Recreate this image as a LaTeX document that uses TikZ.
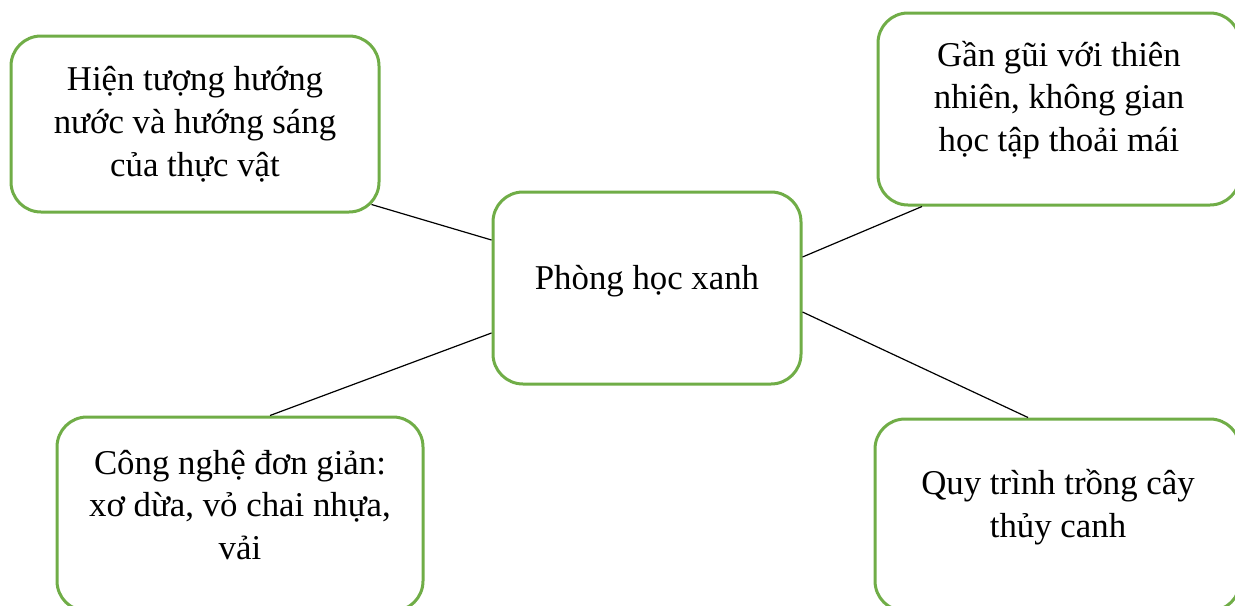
\documentclass[tikz,border=0pt]{standalone}
\usepackage{fontspec}
\setmainfont{Liberation Serif}
\usetikzlibrary{calc}
\definecolor{leafgreen}{RGB}{112,173,71}

\begin{document}
\begin{tikzpicture}[x=0.5pt,y=-0.5pt,
	topic/.style={draw=leafgreen, line width=1.5pt, rounded corners=15pt, fill=white, inner sep=0pt},
	topictext/.style={align=center, inner sep=0pt, font=\fontsize{17.4}{21.4}\selectfont},
	link/.style={draw=black, line width=0.6pt}]
		\useasboundingbox (0,0) rectangle (1235,605);
		\clip (0,0) rectangle (1235,605);

		% boxes
		\node[topic, minimum width=184pt, minimum height=88pt] (plants) at (195,124) {};
		\node[topic, minimum width=154pt, minimum height=96pt] (room) at (647,288) {};
		\node[topic, minimum width=181pt, minimum height=96pt] (nature) at (1059,109) {};
		\node[topic, minimum width=183pt, minimum height=97pt] (tech) at (240,514) {};
		\node[topic, minimum width=182.5pt, minimum height=96pt] (hydro) at (1057.5,515) {};

		% texts
		\node[topictext] (plants-txt) at (195,124) {Hiện tượng hướng\\nước và hướng sáng\\của thực vật};
		\node[topictext] (room-txt) at (647,281) {Phòng học xanh};
		\node[topictext] (nature-txt) at (1059,100) {Gần gũi với thiên\\nhiên, không gian\\học tập thoải mái};
		\node[topictext] (tech-txt) at (240,505) {Công nghệ đơn giản:\\xơ dừa, vỏ chai nhựa,\\vải};
		\node[topictext] (hydro-txt) at (1058,507) {Quy trình trồng cây\\thủy canh};

		% links
		\draw[link] ($(plants.south east)+(-9,-9)$) -- ($(room.west)+(0,-48)$);
		\draw[link] ($(room.east)+(0,-31)$) -- ($(nature.south)+(-137,0)$);
		\draw[link] ($(room.west)+(0,45)$) -- ($(tech.north)+(30,0)$);
		\draw[link] ($(room.east)+(0,24)$) -- ($(hydro.north)+(-29.5,0)$);

	\end{tikzpicture}
\end{document}
